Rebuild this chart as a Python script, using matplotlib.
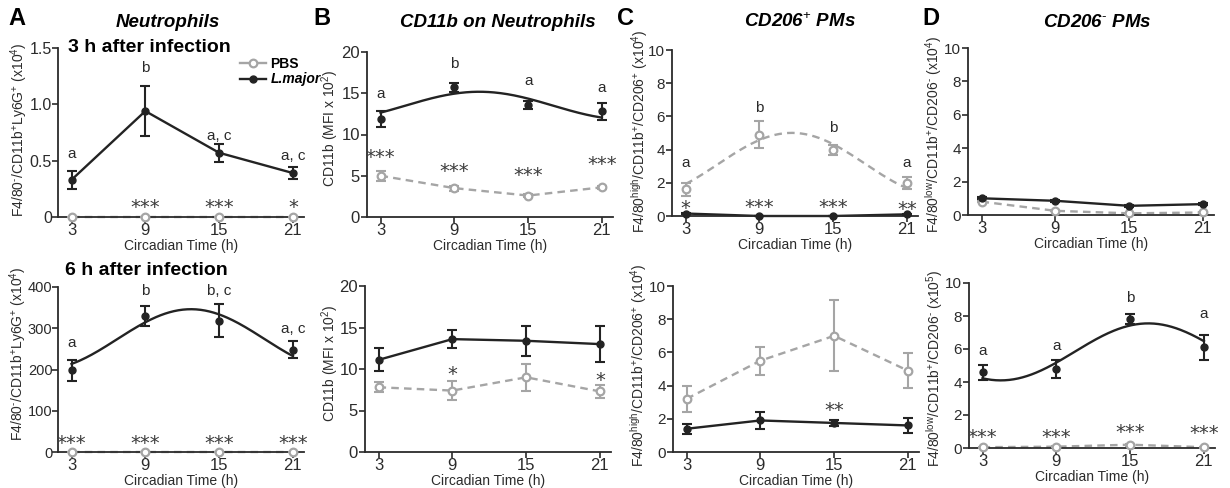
import numpy as np
import matplotlib
matplotlib.use("Agg")
import matplotlib.pyplot as plt
from matplotlib.lines import Line2D

plt.rcParams['font.family'] = ['Liberation Sans', 'DejaVu Sans']
plt.rcParams['mathtext.fontset'] = 'custom'
plt.rcParams['mathtext.rm'] = 'Liberation Sans'
plt.rcParams['mathtext.it'] = 'Liberation Sans:italic'
plt.rcParams['mathtext.bf'] = 'Liberation Sans:bold'

# --- data ---
ct = [3, 9, 15, 21]

a3_lm = [0.33, 0.94, 0.57, 0.39]
a3_lm_err = [0.08, 0.22, 0.08, 0.05]
a3_pbs = [0, 0, 0, 0]
a3_pbs_err = [0, 0, 0, 0]

a6_lm = [198, 330, 318, 248]
a6_lm_err = [25, 25, 40, 20]
a6_pbs = [0, 0, 0, 0]
a6_pbs_err = [0, 0, 0, 0]

b3_lm = [11.9, 15.7, 13.6, 12.8]
b3_lm_err = [1.0, 0.5, 0.5, 1.0]
b3_pbs = [5.0, 3.5, 2.6, 3.6]
b3_pbs_err = [0.6, 0.3, 0.2, 0.2]

b6_lm = [11.1, 13.6, 13.4, 13.0]
b6_lm_err = [1.4, 1.1, 1.8, 2.2]
b6_pbs = [7.8, 7.4, 9.0, 7.3]
b6_pbs_err = [0.6, 1.1, 1.6, 0.8]

c3_lm = [0.15, 0.0, 0.0, 0.1]
c3_lm_err = [0.05, 0.02, 0.02, 0.03]
c3_pbs = [1.6, 4.9, 4.0, 2.0]
c3_pbs_err = [0.4, 0.8, 0.3, 0.35]

c6_lm = [1.4, 1.9, 1.75, 1.6]
c6_lm_err = [0.3, 0.5, 0.2, 0.45]
c6_pbs = [3.2, 5.5, 7.0, 4.9]
c6_pbs_err = [0.8, 0.85, 2.15, 1.05]

d3_lm = [1.0, 0.85, 0.55, 0.65]
d3_lm_err = [0.06, 0.05, 0.05, 0.05]
d3_pbs = [0.8, 0.25, 0.1, 0.15]
d3_pbs_err = [0.05, 0.04, 0.03, 0.03]

d6_lm = [4.6, 4.8, 7.8, 6.1]
d6_lm_err = [0.45, 0.55, 0.3, 0.75]
d6_pbs = [0.05, 0.08, 0.2, 0.05]
d6_pbs_err = [0.02, 0.02, 0.05, 0.02]

# letters / significance stars
a3_letters = ['a', 'b', 'a, c', 'a, c']
a3_stars = ['', '***', '***', '*']
a6_letters = ['a', 'b', 'b, c', 'a, c']
a6_stars = ['***', '***', '***', '***']
b3_letters = ['a', 'b', 'a', 'a']
b3_stars = ['***', '***', '***', '***']
b6_stars = ['', '*', '', '*']
c3_letters = ['a', 'b', 'b', 'a']
c3_stars = ['*', '***', '***', '**']
c6_stars = ['', '', '**', '']
d6_letters = ['a', 'a', 'b', 'a']
d6_stars = ['***', '***', '***', '***']

W, H = 1230, 488
DARK = '#232323'
GREY = '#a5a5a5'
STAR = '#3c3c3c'


def box(l, t, r, b):
    return [l / W, 1 - b / H, (r - l) / W, (b - t) / H]


def cosinor(y):
    # 24 h cosinor fit, as used for the rhythmic series
    t = np.array(ct, float)
    X = np.column_stack([np.ones_like(t), np.cos(2 * np.pi * t / 24), np.sin(2 * np.pi * t / 24)])
    coef = np.linalg.lstsq(X, np.array(y, float), rcond=None)[0]
    tt = np.linspace(3, 21, 200)
    return tt, coef[0] + coef[1] * np.cos(2 * np.pi * tt / 24) + coef[2] * np.sin(2 * np.pi * tt / 24)


def series(ax, y, err, pbs, fit):
    col = GREY if pbs else DARK
    ls = (0, (3.2, 2.2)) if pbs else '-'
    if fit:
        tt, yy = cosinor(y)
        ax.plot(tt, yy, color=col, lw=1.7, ls=ls, clip_on=False, zorder=2)
    else:
        ax.plot(ct, y, color=col, lw=1.7, ls=ls, clip_on=False, zorder=2)
    ax.errorbar(ct, y, yerr=err, fmt='none', ecolor=col, elinewidth=1.5,
                capsize=3.5, capthick=1.5, clip_on=False, zorder=3)
    ax.plot(ct, y, 'o', ms=5.5 if pbs else 5, mfc='white' if pbs else col,
            mec=col, mew=1.6 if pbs else 1, ls='none', clip_on=False, zorder=4)


def letters(ax, labels, ys):
    for x, s, y in zip(ct, labels, ys):
        ax.text(x, y, s, ha='center', va='baseline', fontsize=11, color='#2a2a2a')


def stars(ax, labels, ys, fs=14):
    for x, s, y in zip(ct, labels, ys):
        if s:
            ax.annotate(s, (x, y), xytext=(0, -0.55 * fs), textcoords='offset points',
                        ha='center', va='baseline', fontsize=fs, color=STAR,
                        family='DejaVu Sans', annotation_clip=False)


def setup(ax, ymax, yticks, ticklabels, ysize=12):
    ax.set_xlim(1.9, 21.9)
    ax.set_ylim(0, ymax)
    ax.set_xticks(ct)
    ax.set_yticks(yticks)
    ax.set_yticklabels(ticklabels)
    for s in ['top', 'right']:
        ax.spines[s].set_visible(False)
    for s in ['left', 'bottom']:
        ax.spines[s].set_linewidth(1.3)
        ax.spines[s].set_color('#2b2b2b')
    ax.tick_params(axis='both', direction='out', length=4, width=1.2, labelsize=12,
                   colors='#2b2b2b')
    ax.tick_params(axis='x', pad=0)
    ax.tick_params(axis='y', pad=1, labelsize=ysize)
    ax.set_xlabel('Circadian Time (h)', fontsize=10, labelpad=1, color='#2b2b2b')
    ax.patch.set_alpha(0)


fig = plt.figure(figsize=(12.3, 4.88), dpi=100)

# A top
ax = fig.add_axes(box(58, 48, 304, 217))
setup(ax, 1.5, [0, 0.5, 1.0, 1.5], ['0', '0.5', '1.0', '1.5'], ysize=11.5)
ax.tick_params(axis='y', pad=0.5)
series(ax, a3_pbs, a3_pbs_err, True, False)
series(ax, a3_lm, a3_lm_err, False, False)
letters(ax, a3_letters, [0.52, 1.29, 0.68, 0.51])
stars(ax, a3_stars, [0.13, 0.13, 0.13, 0.13])

# A bottom
ax = fig.add_axes(box(58, 287, 304, 452))
setup(ax, 400, [0, 100, 200, 300, 400], ['0', '100', '200', '300', '400'], ysize=10.5)
ax.tick_params(axis='y', pad=0)
series(ax, a6_pbs, a6_pbs_err, True, False)
series(ax, a6_lm, a6_lm_err, False, True)
letters(ax, a6_letters, [254, 380, 380, 288])
stars(ax, a6_stars, [32, 32, 32, 32])

# B top
ax = fig.add_axes(box(367, 52, 613, 217))
setup(ax, 20, [0, 5, 10, 15, 20], ['0', '5', '10', '15', '20'])
series(ax, b3_pbs, b3_pbs_err, True, False)
series(ax, b3_lm, b3_lm_err, False, True)
letters(ax, b3_letters, [14.4, 18.1, 16.0, 15.2])
stars(ax, b3_stars, [7.8, 6.2, 5.6, 7.0])

# B bottom
ax = fig.add_axes(box(365, 286, 611, 452))
setup(ax, 20, [0, 5, 10, 15, 20], ['0', '5', '10', '15', '20'])
series(ax, b6_pbs, b6_pbs_err, True, False)
series(ax, b6_lm, b6_lm_err, False, False)
stars(ax, b6_stars, [0, 10.0, 0, 9.2])

ten = [0, 2, 4, 6, 8, 10]
ten_lbl = ['0', '2', '4', '6', '8', '10']

# C top
ax = fig.add_axes(box(672, 50, 918, 216))
setup(ax, 10, ten, ten_lbl, ysize=11)
series(ax, c3_pbs, c3_pbs_err, True, True)
series(ax, c3_lm, c3_lm_err, False, False)
letters(ax, c3_letters, [2.97, 6.28, 5.08, 2.97])
stars(ax, c3_stars, [0.78, 0.81, 0.81, 0.72])

# C bottom
ax = fig.add_axes(box(673, 286, 919, 452))
setup(ax, 10, ten, ten_lbl, ysize=11)
series(ax, c6_pbs, c6_pbs_err, True, False)
series(ax, c6_lm, c6_lm_err, False, False)
stars(ax, c6_stars, [0, 0, 2.83, 0])

# D top
ax = fig.add_axes(box(968, 48, 1214, 215))
setup(ax, 10, ten, ten_lbl, ysize=11)
series(ax, d3_pbs, d3_pbs_err, True, False)
series(ax, d3_lm, d3_lm_err, False, False)

# D bottom
ax = fig.add_axes(box(969, 283, 1215, 448))
setup(ax, 10, ten, ten_lbl, ysize=11)
series(ax, d6_pbs, d6_pbs_err, True, False)
series(ax, d6_lm, d6_lm_err, False, True)
letters(ax, d6_letters, [5.64, 5.94, 8.87, 7.88])
stars(ax, d6_stars, [0.97, 0.97, 1.27, 1.2])


def ftext(x, y, s, **kw):
    fig.text(x / W, 1 - y / H, s, **kw)


# panel letters and titles
for x, s in [(8, 'A'), (313, 'B'), (617, 'C'), (922, 'D')]:
    ftext(x, 25, s, fontsize=17, fontweight='bold', va='baseline', ha='left')
for x, s in [(168, 'Neutrophils'), (498, 'CD11b on Neutrophils'),
             (800, r'CD206$^{+}$ PMs'), (1097, r'CD206$^{\text{-}}$ PMs')]:
    ftext(x, 27, s, fontsize=13.5, fontweight='bold', style='italic', ha='center', va='baseline')
ftext(68, 51.5, '3 h after infection', fontsize=14, fontweight='bold', va='baseline')
ftext(65, 275, '6 h after infection', fontsize=14, fontweight='bold', va='baseline')

# y labels
ylab = dict(rotation=90, ha='center', va='center', fontsize=10, color='#2b2b2b')
ftext(19, 130, r'F4/80$^{\text{-}}$/CD11b$^{+}$Ly6G$^{+}$ (x10$^{4}$)', **ylab)
ftext(18, 354, r'F4/80$^{\text{-}}$/CD11b$^{+}$Ly6G$^{+}$ (x10$^{4}$)', **ylab)
ftext(330, 128, r'CD11b (MFI x 10$^{2}$)', **ylab)
ftext(330, 363, r'CD11b (MFI x 10$^{2}$)', **ylab)
ftext(640, 131, r'F4/80$^{\mathrm{high}}$/CD11b$^{+}$/CD206$^{+}$ (x10$^{4}$)', **ylab)
ftext(639, 365, r'F4/80$^{\mathrm{high}}$/CD11b$^{+}$/CD206$^{+}$ (x10$^{4}$)', **ylab)
ftext(934, 134, r'F4/80$^{\mathrm{low}}$/CD11b$^{+}$/CD206$^{\text{-}}$ (x10$^{4}$)', **ylab)
ftext(935, 368, r'F4/80$^{\mathrm{low}}$/CD11b$^{+}$/CD206$^{\text{-}}$ (x10$^{5}$)', **ylab)

# legend
handles = [
    Line2D([], [], color=GREY, lw=1.7, marker='o', ms=5.5, mfc='white', mec=GREY, mew=1.6),
    Line2D([], [], color=DARK, lw=1.7, marker='o', ms=5, mfc=DARK, mec=DARK),
]
leg = fig.legend(handles, ['PBS', 'L.major'], loc='upper left',
                 bbox_to_anchor=(240 / W, 1 - 57 / H), frameon=False,
                 prop={'weight': 'bold', 'size': 10}, handlelength=1.9,
                 handletextpad=0.3, labelspacing=0.1, borderpad=0, borderaxespad=0)
leg.get_texts()[1].set_style('italic')

fig.savefig('out.png', dpi=100)
